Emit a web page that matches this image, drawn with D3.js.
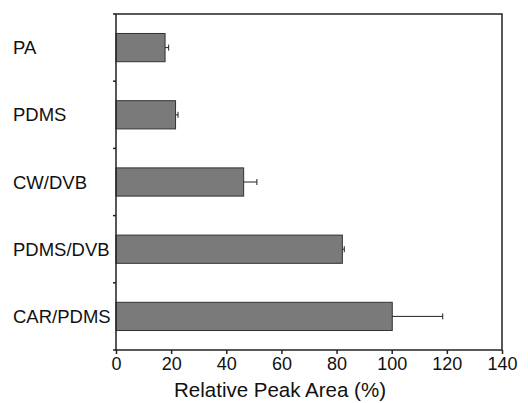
<!DOCTYPE html>
<html>
<head>
<meta charset="utf-8">
<script src="https://cdn.jsdelivr.net/npm/d3@7"></script>
<style>
  body { margin: 0; background: #fff; }
  text { font-family: "Liberation Sans", Arial, sans-serif; fill: #111; }
</style>
</head>
<body>
<script>
var categories = ['PA', 'PDMS', 'CW/DVB', 'PDMS/DVB', 'CAR/PDMS'];
var values = [17.8, 21.6, 46.3, 82.1, 100.2];
var errors = [1.3, 0.9, 4.8, 0.7, 18.3];
var xTicks = [0, 20, 40, 60, 80, 100, 120, 140];

var width = 528, height = 403;
var plotLeft = 116, plotRight = 502, plotTop = 14, plotBottom = 350;

var svg = d3.select('body').append('svg').attr('width', width).attr('height', height);

var x = d3.scaleLinear().domain([0, 140]).range([plotLeft, plotRight]);
// one band per fibre, ticks sit on band edges
var y = d3.scaleBand().domain(categories).range([plotTop, plotBottom]).padding(0);
var barH = y.bandwidth() * 0.42;

var data = categories.map(function(c, i) { return { name: c, v: values[i], e: errors[i] }; });

/*BARS*/
svg.selectAll('rect.bar')
    .data(data)
    .enter().append('rect')
        .attr('class', 'bar')
        .attr('x', x(0))
        .attr('y', function(d) { return y(d.name) + (y.bandwidth() - barH) / 2; })
        .attr('width', function(d) { return x(d.v) - x(0); })
        .attr('height', barH)
        .attr('fill', '#7a7a7a')
        .attr('stroke', '#333')
        .attr('stroke-width', 1);

/*ERROR BARS (one sided)*/
var err = svg.selectAll('g.err').data(data).enter().append('g').attr('class', 'err');
err.append('line')
    .attr('x1', function(d) { return x(d.v); })
    .attr('x2', function(d) { return x(d.v + d.e); })
    .attr('y1', function(d) { return y(d.name) + y.bandwidth() / 2; })
    .attr('y2', function(d) { return y(d.name) + y.bandwidth() / 2; })
    .attr('stroke', '#222').attr('stroke-width', 1);
err.append('line')
    .attr('x1', function(d) { return x(d.v + d.e); })
    .attr('x2', function(d) { return x(d.v + d.e); })
    .attr('y1', function(d) { return y(d.name) + y.bandwidth() / 2 - 3; })
    .attr('y2', function(d) { return y(d.name) + y.bandwidth() / 2 + 3; })
    .attr('stroke', '#222').attr('stroke-width', 1);

/*FRAME*/
svg.append('rect')
    .attr('x', plotLeft).attr('y', plotTop)
    .attr('width', plotRight - plotLeft).attr('height', plotBottom - plotTop)
    .attr('fill', 'none').attr('stroke', '#222').attr('stroke-width', 1.5);

/*X AXIS*/
var xAxis = svg.append('g')
    .attr('transform', 'translate(0,' + plotBottom + ')')
    .call(d3.axisBottom(x).tickValues(xTicks).tickSize(4).tickPadding(3));
xAxis.select('.domain').remove();
xAxis.selectAll('line').attr('stroke', '#222').attr('stroke-width', 1.5);
xAxis.selectAll('text').attr('font-size', 18).attr('fill', '#111')
    .attr('font-family', '"Liberation Sans", Arial, sans-serif');

/*Y TICKS on band edges*/
var edges = categories.map(function(c) { return y(c); }).concat([plotBottom]);
svg.selectAll('line.ytick')
    .data(edges)
    .enter().append('line')
        .attr('class', 'ytick')
        .attr('x1', plotLeft - 3).attr('x2', plotLeft)
        .attr('y1', function(d) { return d; })
        .attr('y2', function(d) { return d; })
        .attr('stroke', '#222').attr('stroke-width', 1.5);

/*CATEGORY LABELS*/
svg.selectAll('text.cat')
    .data(categories)
    .enter().append('text')
        .attr('class', 'cat')
        .attr('x', 13)
        .attr('y', function(d) { return y(d) + y.bandwidth() / 2; })
        .attr('dominant-baseline', 'central')
        .attr('font-size', 18.5)
        .text(function(d) { return d; });

/*AXIS TITLE*/
svg.append('text')
    .attr('x', 280)
    .attr('y', 397)
    .attr('text-anchor', 'middle')
    .attr('font-size', 20.5)
    .text('Relative Peak Area (%)');
</script>
</body>
</html>
